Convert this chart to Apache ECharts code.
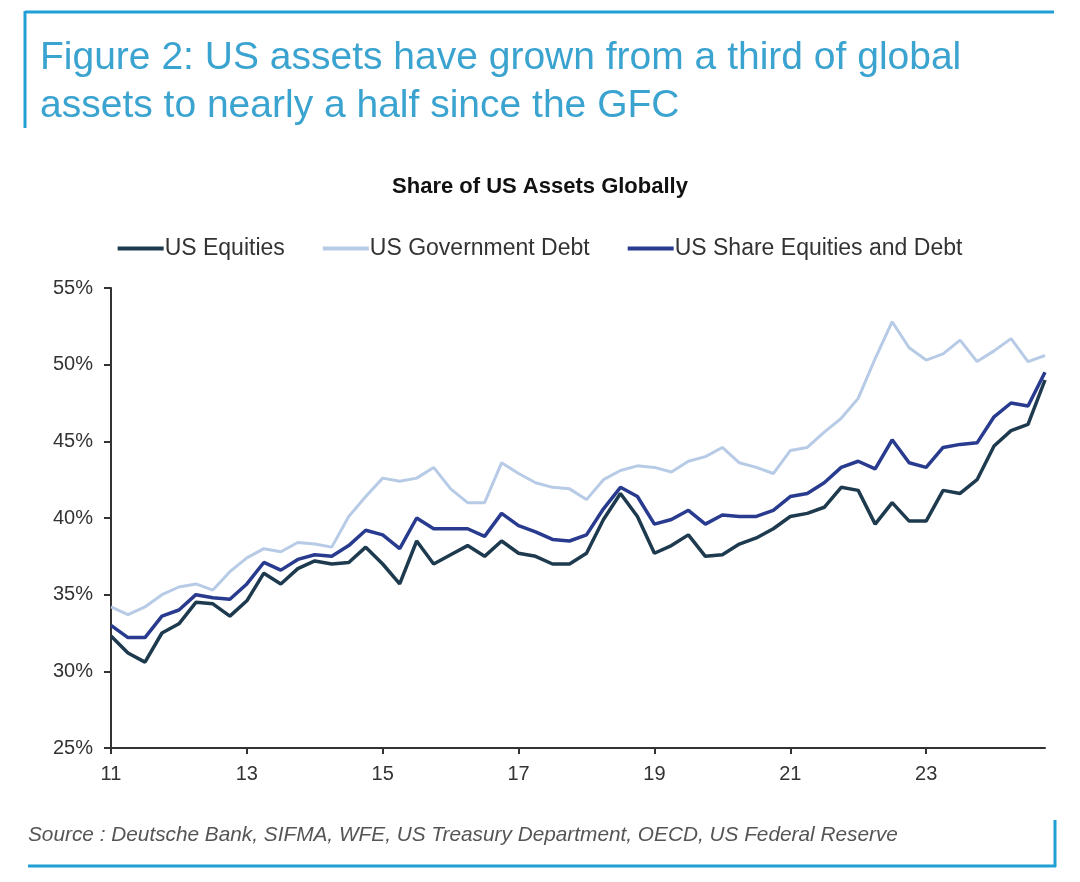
<!DOCTYPE html>
<html>
<head>
<meta charset="utf-8">
<title>Share of US Assets Globally</title>
<script src="https://cdn.jsdelivr.net/npm/echarts@6/dist/echarts.min.js"></script>
<style>
  html, body { margin: 0; padding: 0; background: #fff; }
  #chart { width: 1080px; height: 882px; }
</style>
</head>
<body>
<div id="chart"></div>
<script>
// quarterly, 2011 Q1 .. 2024 Q4
var years = ['11','12','13','14','15','16','17','18','19','20','21','22','23','24'];
var tickLabels = ['11','13','15','17','19','21','23'];

var usEquities = [
  32.3, 31.2, 30.6, 32.5, 33.1, 34.5, 34.4, 33.6,
  34.6, 36.4, 35.7, 36.7, 37.2, 37.0, 37.1, 38.1,
  37.0, 35.7, 38.5, 37.0, 37.6, 38.2, 37.5, 38.5,
  37.7, 37.5, 37.0, 37.0, 37.7, 39.9, 41.6, 40.1,
  37.7, 38.2, 38.9, 37.5, 37.6, 38.3, 38.7, 39.3,
  40.1, 40.3, 40.7, 42.0, 41.8, 39.6, 41.0, 39.8,
  39.8, 41.8, 41.6, 42.5, 44.7, 45.7, 46.1, 49.0
];
var usGovDebt = [
  34.2, 33.7, 34.2, 35.0, 35.5, 35.7, 35.3, 36.5,
  37.4, 38.0, 37.8, 38.4, 38.3, 38.1, 40.1, 41.4,
  42.6, 42.4, 42.6, 43.3, 41.9, 41.0, 41.0, 43.6,
  42.9, 42.3, 42.0, 41.9, 41.2, 42.5, 43.1, 43.4,
  43.3, 43.0, 43.7, 44.0, 44.6, 43.6, 43.3, 42.9,
  44.4, 44.6, 45.6, 46.5, 47.8, 50.4, 52.8, 51.1,
  50.3, 50.7, 51.6, 50.2, 50.9, 51.7, 50.2, 50.6
];
var usShare = [
  33.0, 32.2, 32.2, 33.6, 34.0, 35.0, 34.8, 34.7,
  35.7, 37.1, 36.6, 37.3, 37.6, 37.5, 38.2, 39.2,
  38.9, 38.0, 40.0, 39.3, 39.3, 39.3, 38.8, 40.3,
  39.5, 39.1, 38.6, 38.5, 38.9, 40.6, 42.0, 41.4,
  39.6, 39.9, 40.5, 39.6, 40.2, 40.1, 40.1, 40.5,
  41.4, 41.6, 42.3, 43.3, 43.7, 43.2, 45.1, 43.6,
  43.3, 44.6, 44.8, 44.9, 46.6, 47.5, 47.3, 49.5
];

var quarters = [];
for (var y = 0; y < years.length; y++) {
    for (var q = 1; q <= 4; q++) {
        quarters.push(years[y] + 'Q' + q);
    }
}

var font = 'Liberation Sans, Arial, sans-serif';
var frameColor = '#1f9fd5';
var chart = echarts.init(document.getElementById('chart'));

// show a tick/label every second year (every 8 quarters)
function everyTwoYears(i) { return i % 8 === 0; }

var option = {
    backgroundColor: '#fff',
    animation: false,
    title: [
        {
            text: 'Figure 2: US assets have grown from a third of global\nassets to nearly a half since the GFC',
            left: 35, top: 29,
            textStyle: {
                color: '#3aa3cf', fontSize: 39, fontWeight: 'normal',
                fontFamily: font, lineHeight: 48
            }
        },
        {
            text: 'Share of US Assets Globally',
            left: 'center', top: 171,
            textStyle: { color: '#111', fontSize: 22, fontWeight: 'bold', fontFamily: font }
        },
        {
            text: 'Source : Deutsche Bank, SIFMA, WFE, US Treasury Department, OECD, US Federal Reserve',
            left: 23, top: 820,
            textStyle: {
                color: '#555', fontSize: 20.8, fontStyle: 'italic', fontWeight: 'normal',
                fontFamily: font
            }
        }
    ],
    legend: {
        top: 232, left: 'center', itemGap: 38,
        itemWidth: 46, itemHeight: 4,
        icon: 'rect',
        textStyle: { color: '#333', fontSize: 23, fontFamily: font, padding: [0, 0, 0, -4] },
        data: ['US Equities', 'US Government Debt', 'US Share Equities and Debt']
    },
    grid: { left: 111, right: 35, top: 288, bottom: 134, containLabel: false },
    xAxis: {
        type: 'category',
        data: quarters,
        boundaryGap: false,
        axisLine: { lineStyle: { color: '#333', width: 2 } },
        axisTick: { interval: everyTwoYears, length: 6, lineStyle: { color: '#333', width: 2 } },
        axisLabel: {
            interval: everyTwoYears, margin: 16,
            color: '#333', fontSize: 20, fontFamily: font,
            formatter: function (v, i) { return tickLabels[i / 8]; }
        },
        splitLine: { show: false }
    },
    yAxis: {
        type: 'value',
        min: 25, max: 55, interval: 5,
        axisLine: { show: true, lineStyle: { color: '#333', width: 2 } },
        axisTick: { show: true, length: 7, lineStyle: { color: '#333', width: 2 } },
        axisLabel: {
            margin: 18, color: '#333', fontSize: 20, fontFamily: font,
            formatter: '{value}%'
        },
        splitLine: { show: false }
    },
    series: [
        {
            name: 'US Government Debt', type: 'line', data: usGovDebt,
            symbol: 'none', z: 1,
            lineStyle: { color: '#b7cbe6', width: 3 },
            itemStyle: { color: '#b7cbe6' }
        },
        {
            name: 'US Equities', type: 'line', data: usEquities,
            symbol: 'none', z: 2,
            lineStyle: { color: '#1e3a4f', width: 3.5 },
            itemStyle: { color: '#1e3a4f' }
        },
        {
            name: 'US Share Equities and Debt', type: 'line', data: usShare,
            symbol: 'none', z: 3,
            lineStyle: { color: '#283b8e', width: 3.5 },
            itemStyle: { color: '#283b8e' }
        }
    ],
    graphic: [
        { type: 'line', shape: { x1: 25, y1: 12, x2: 1054, y2: 12 }, style: { stroke: frameColor, lineWidth: 3 } },
        { type: 'line', shape: { x1: 25, y1: 11, x2: 25, y2: 128 }, style: { stroke: frameColor, lineWidth: 3 } },
        { type: 'line', shape: { x1: 28, y1: 866, x2: 1056, y2: 866 }, style: { stroke: frameColor, lineWidth: 3 } },
        { type: 'line', shape: { x1: 1055, y1: 820, x2: 1055, y2: 867 }, style: { stroke: frameColor, lineWidth: 3 } }
    ]
};

chart.setOption(option);
</script>
</body>
</html>
